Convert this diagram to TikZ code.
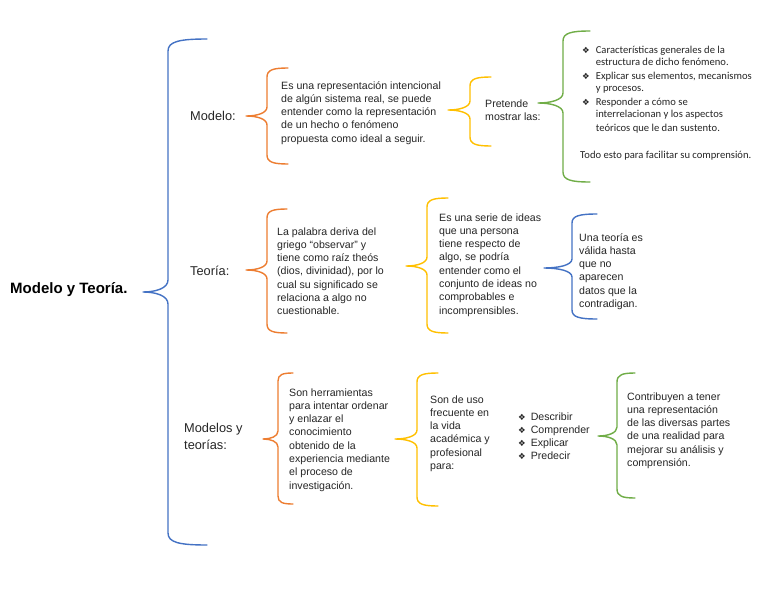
\documentclass[tikz,border=0pt]{standalone}
\usepackage{fontspec}
\setmainfont{Liberation Sans}
\newfontfamily\calib{Carlito}
\newfontfamily\dejavu{DejaVu Sans}
\definecolor{cblue}{HTML}{4472C4}
\definecolor{corange}{HTML}{ED7D31}
\definecolor{cyellow}{HTML}{FFC000}
\definecolor{cgreen}{HTML}{70AD47}
\definecolor{tgray}{HTML}{262626}
% brace: color, x right end, y top, x vertical, x tip, y tip, y bottom, radius
\newcommand{\mybrace}[8]{%
  \draw[#1, line width=1.4pt, line cap=round, line join=round]
    (#2,#3) .. controls ({#4+0.3*(#2-#4)},#3) and (#4,{#3+0.2*#8}) .. (#4,{#3+#8})
    -- (#4,{#6-#8}) .. controls (#4,{#6-0.3*#8}) and ({#5+0.5*(#4-#5)},#6) .. (#5,#6)
    .. controls ({#5+0.5*(#4-#5)},#6) and (#4,{#6+0.3*#8}) .. (#4,{#6+#8})
    -- (#4,{#7-#8}) .. controls (#4,{#7-0.2*#8}) and ({#4+0.3*(#2-#4)},#7) .. (#2,#7);}
\newcommand{\bul}{{\dejavu\fontsize{8.5}{8.5}\selectfont ❖}}
\begin{document}
\begin{tikzpicture}[x=1pt,y=-1pt,
  txt/.style={anchor=base west, inner sep=0pt, text=tgray, font=\fontsize{10.6}{13.3}\selectfont},
  lab/.style={anchor=base west, inner sep=0pt, text=tgray, font=\fontsize{12.8}{17}\selectfont},
  cal/.style={anchor=base west, inner sep=0pt, text=tgray, font=\calib\fontsize{10.6}{13}\selectfont}]
\useasboundingbox[fill=white] (0,0) rectangle (768,594);

% main title
\node[anchor=base west, inner sep=0pt, text=black, font=\bfseries\fontsize{15}{16}\selectfont] (title) at (10,293) {Modelo y Teoría.};
\mybrace{cblue}{207}{39}{168}{143}{292}{545}{12}

% ---------- Modelo ----------
\node[lab] (modelo) at (190,120) {Modelo:};
\mybrace{corange}{288}{68}{267}{246}{116}{164}{9}
\node[txt] (t1) at (281,89) {\begin{tabular}[t]{@{}l@{}}Es una representación intencional\\de algún sistema real, se puede\\entender como la representación\\de un hecho o fenómeno\\propuesta como ideal a seguir.\end{tabular}};
\mybrace{cyellow}{491}{77}{470}{448}{110}{146}{9}
\node[txt] (pret) at (485,107) {\begin{tabular}[t]{@{}l@{}}Pretende\\mostrar las:\end{tabular}};
\mybrace{cgreen}{590}{31}{563}{538}{103}{182}{10}
\node[cal] (l1) at (582,53) {\begin{tabular}[t]{@{}l@{\hspace{6pt}}l@{}}\bul & Características generales de la\\ & estructura de dicho fenómeno.\\\bul & Explicar sus elementos, mecanismos\\ & y procesos.\\\bul & Responder a cómo se\\ & interrelacionan y los aspectos\\ & teóricos que le dan sustento.\end{tabular}};
\node[cal] (todo) at (580,158) {Todo esto para facilitar su comprensión.};

% ---------- Teoria ----------
\node[lab] (teoria) at (190,275) {Teoría:};
\mybrace{corange}{287}{209}{267}{246}{270}{333}{9}
\node[txt] (t2) at (277,235) {\begin{tabular}[t]{@{}l@{}}La palabra deriva del\\griego “observar” y\\tiene como raíz theós\\(dios, divinidad), por lo\\cual su significado se\\relaciona a algo no\\cuestionable.\end{tabular}};
\mybrace{cyellow}{448}{198}{427}{406}{266}{333}{9}
\node[txt] (t3) at (439,221) {\begin{tabular}[t]{@{}l@{}}Es una serie de ideas\\que una persona\\tiene respecto de\\algo, se podría\\entender como el\\conjunto de ideas no\\comprobables e\\incomprensibles.\end{tabular}};
\mybrace{cblue}{597}{214}{572}{544}{268}{319}{9}
\node[txt] (t4) at (579,241) {\begin{tabular}[t]{@{}l@{}}Una teoría es\\válida hasta\\que no\\aparecen\\datos que la\\contradigan.\end{tabular}};

% ---------- Modelos y teorias ----------
\node[lab] (myt) at (184,432) {\begin{tabular}[t]{@{}l@{}}Modelos y\\teorías:\end{tabular}};
\mybrace{corange}{293}{373}{278}{263}{439}{504}{8}
\node[txt] (t5) at (289,396) {\begin{tabular}[t]{@{}l@{}}Son herramientas\\para intentar ordenar\\y enlazar el\\conocimiento\\obtenido de la\\experiencia mediante\\el proceso de\\investigación.\end{tabular}};
\mybrace{cyellow}{438}{373}{417}{395}{439}{506}{9}
\node[txt] (t6) at (430,403) {\begin{tabular}[t]{@{}l@{}}Son de uso\\frecuente en\\la vida\\académica y\\profesional\\para:\end{tabular}};
\node[txt] (l3) at (518,420) {\begin{tabular}[t]{@{}l@{\hspace{5pt}}l@{}}\bul & Describir\\\bul & Comprender\\\bul & Explicar\\\bul & Predecir\end{tabular}};
\mybrace{cgreen}{635}{373}{617}{598}{436}{498}{9}
\node[txt] (t7) at (627,400) {\begin{tabular}[t]{@{}l@{}}Contribuyen a tener\\una representación\\de las diversas partes\\de una realidad para\\mejorar su análisis y\\comprensión.\end{tabular}};
\end{tikzpicture}
\end{document}
